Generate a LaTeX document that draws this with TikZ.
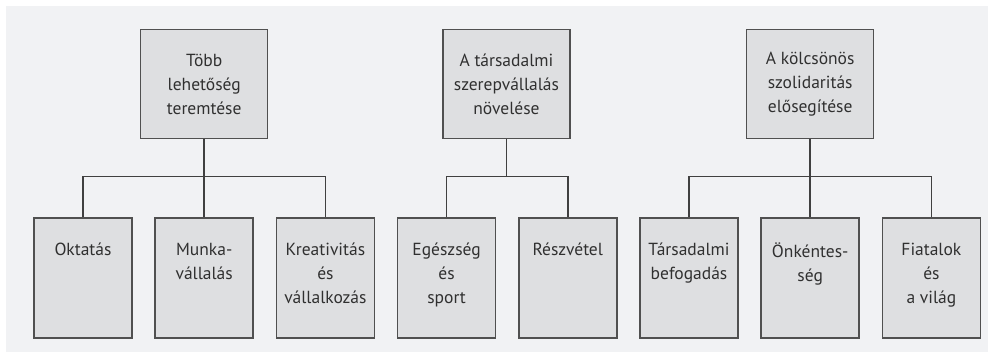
\documentclass[tikz,border=0pt]{standalone}
\usepackage{fontspec}
\setmainfont{PT Sans}
\usetikzlibrary{positioning}
\definecolor{bggray}{HTML}{F1F2F4}
\definecolor{boxgray}{HTML}{DEDFE1}
\definecolor{edgegray}{HTML}{505050}
\definecolor{textgray}{HTML}{303030}
\newcommand{\leaftext}[1]{\parbox[t][70pt][t]{96pt}{\centering #1}}

\begin{document}
\begin{tikzpicture}[x=1pt, y=1pt, node distance=21.7pt,
  goal/.style={draw=edgegray, line width=1.5pt, fill=boxgray, minimum width=127pt,
    minimum height=109pt, align=center, text=textgray, font=\fontsize{17.5}{24}\selectfont},
  leaf/.style={draw=edgegray, line width=1.5pt, fill=boxgray, minimum width=98pt,
    minimum height=120pt, inner sep=1pt, text=textgray, font=\fontsize{17.5}{24}\selectfont},
  link/.style={draw=black!75, line width=1.5pt}]
\useasboundingbox (0,0) rectangle (988,-361);
\fill[bggray] (6,-6) rectangle (988,-352);
% lower row
\node[leaf] (okt) at (83,-278) {\leaftext{Oktatás}};
\node[leaf, right=of okt] (munka) {\leaftext{Munka-\\vállalás}};
\node[leaf, right=of munka] (kreat) {\leaftext{Kreativitás\\és\\vállalkozás}};
\node[leaf, right=of kreat] (egesz) {\leaftext{Egészség\\és\\sport}};
\node[leaf, right=of egesz] (reszv) {\leaftext{Részvétel}};
\node[leaf, right=of reszv] (tarsb) {\leaftext{Társadalmi\\befogadás}};
\node[leaf, right=of tarsb] (onkent) {\leaftext{Önkéntes-\\ség}};
\node[leaf, right=of onkent] (fiatal) {\leaftext{Fiatalok\\és\\a világ}};
% upper row
\node[goal, above=78pt of munka] (tobb) {Több\\lehetőség\\teremtése};
\node[goal, above=78pt of egesz, xshift=59.85pt] (tarsad) {A társadalmi\\szerepvállalás\\növelése};
\node[goal, above=78pt of onkent] (kolcs) {A kölcsönös\\szolidaritás\\elősegítése};
% connectors
\foreach \c in {okt,munka,kreat}
  \draw[link] (tobb.south) -- ++(0,-37) -| (\c.north);
\foreach \c in {egesz,reszv}
  \draw[link] (tarsad.south) -- ++(0,-37) -| (\c.north);
\foreach \c in {tarsb,onkent,fiatal}
  \draw[link] (kolcs.south) -- ++(0,-37) -| (\c.north);
\end{tikzpicture}
\end{document}
